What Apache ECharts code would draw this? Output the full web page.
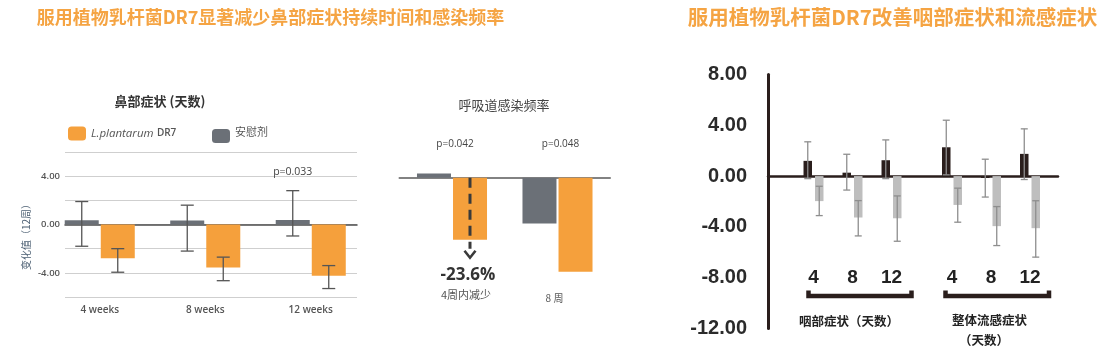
<!DOCTYPE html>
<html>
<head>
<meta charset="utf-8">
<script src="https://cdn.jsdelivr.net/npm/echarts@6/dist/echarts.min.js"></script>
<style>
  html, body { margin: 0; padding: 0; background: #ffffff; }
  #main { width: 1107px; height: 356px; }
</style>
</head>
<body>
<div id="main"></div>
<script>
// 鼻部症状（天数）：12周内的变化值
const nasalWeeks = ['4 weeks', '8 weeks', '12 weeks'];
const nasalPlacebo = [0.35, 0.33, 0.38];
const nasalPlaceboLow = [-1.8, -2.2, -0.95];
const nasalPlaceboHigh = [1.9, 1.6, 2.8];
const nasalDR7 = [-2.8, -3.55, -4.25];
const nasalDR7Low = [-3.95, -4.65, -5.3];
const nasalDR7High = [-2.0, -2.7, -3.4];
const nasalP = ['', '', 'p=0.033'];
const nasalLabeledTicks = [4, 0, -4];

// 呼吸道感染频率（相对变化，%）
const infectionPeriods = ['4周内减少', '8 周'];
const infectionPlacebo = [1.6, -17.4];
const infectionDR7 = [-23.6, -35.8];
const infectionP = ['p=0.042', 'p=0.048'];

// 咽部症状与整体流感症状（天数）
const weekTicks = ['4', '8', '12'];
const throatPlacebo = [1.2, 0.27, 1.25];
const throatPlaceboLow = [-0.2, -1.1, -0.2];
const throatPlaceboHigh = [2.7, 1.72, 2.85];
const throatDR7 = [-1.97, -3.26, -3.32];
const throatDR7Low = [-3.11, -4.71, -5.13];
const throatDR7High = [-0.8, -1.93, -1.56];
const fluPlacebo = [2.27, -0.15, 1.75];
const fluPlaceboLow = [0.1, -1.65, -0.27];
const fluPlaceboHigh = [4.4, 1.33, 3.72];
const fluDR7 = [-2.27, -3.94, -4.1];
const fluDR7Low = [-3.63, -5.47, -6.38];
const fluDR7High = [-0.95, -2.4, -1.94];

const ORANGE = '#F5A03C';
const SLATE = '#6B7077';
const INK = '#2A1E1C';
const LIGHT = '#BEBEBE';
const TITLE = '#F5A443';
const SANS = "'Open Sans','Noto Sans CJK SC',sans-serif";
const ARIAL = "'Liberation Sans','Noto Sans CJK SC',sans-serif";
const CJK = "'Noto Sans CJK SC',sans-serif";

// vertical error bar with caps, drawn beside the category centre
function errorBars(axis, lows, highs, shift, cap, color, width) {
  return {
    type: 'custom', xAxisIndex: axis, yAxisIndex: axis, silent: true, z: 5,
    data: lows.map((lo, i) => [i, lo, highs[i]]),
    encode: { x: 0, y: [1, 2] },
    renderItem(params, api) {
      const top = api.coord([api.value(0), api.value(2)]);
      const bot = api.coord([api.value(0), api.value(1)]);
      const x = top[0] + shift;
      const style = { stroke: color, lineWidth: width };
      return {
        type: 'group', children: [
          { type: 'line', shape: { x1: x, y1: top[1], x2: x, y2: bot[1] }, style },
          { type: 'line', shape: { x1: x - cap / 2, y1: top[1], x2: x + cap / 2, y2: top[1] }, style },
          { type: 'line', shape: { x1: x - cap / 2, y1: bot[1], x2: x + cap / 2, y2: bot[1] }, style }
        ]
      };
    }
  };
}

// significance notes placed at a fixed value above each category
function notes(axis, texts, level, shift, size) {
  return {
    type: 'custom', xAxisIndex: axis, yAxisIndex: axis, silent: true, z: 6,
    data: texts.map((t, i) => [i, level]),
    renderItem(params, api) {
      const p = api.coord([api.value(0), api.value(1)]);
      return {
        type: 'text', x: p[0] + shift, y: p[1],
        style: {
          text: texts[params.dataIndex], fill: '#444', fontSize: size,
          fontFamily: SANS, align: 'center', verticalAlign: 'middle'
        }
      };
    }
  };
}

function hiddenValueAxis(grid, min, max) {
  return { type: 'value', gridIndex: grid, min, max, show: false };
}

const option = {
  animation: false,
  backgroundColor: '#ffffff',
  grid: [
    { left: 65, top: 152, width: 292, height: 145, outerBoundsMode: 'none' },
    { left: 47, top: 152, width: 316.5, height: 145, outerBoundsMode: 'none' },
    { left: 399.25, top: 135.6, width: 211, height: 147.3, outerBoundsMode: 'none' },
    { left: 768, top: 74.5, width: 290, height: 254, outerBoundsMode: 'none' },
    { left: 794, top: 74.5, width: 117, height: 254, outerBoundsMode: 'none' },
    { left: 932.5, top: 74.5, width: 117, height: 254, outerBoundsMode: 'none' }
  ],
  legend: [
    {
      left: 63, top: 121.5, itemWidth: 18, itemHeight: 14, itemGap: 0,
      data: ['L.plantarum DR7'], selectedMode: false,
      formatter: () => '{i|L.plantarum} {d|DR7}',
      textStyle: {
        rich: {
          i: { fontStyle: 'italic', fontSize: 11.5, color: '#555', fontFamily: SANS },
          d: { fontSize: 10, fontWeight: 600, color: '#555', fontFamily: SANS }
        }
      }
    },
    {
      left: 207, top: 121.5, itemWidth: 18, itemHeight: 14, itemGap: 0,
      data: ['安慰剂'], selectedMode: false,
      formatter: name => '{t|' + name + '}',
      textStyle: { rich: { t: { fontSize: 11, color: '#555', fontFamily: CJK, padding: [0, 0, 8, 0] } } }
    }
  ],
  xAxis: [
    {
      type: 'category', gridIndex: 0, data: nasalWeeks,
      axisLabel: { show: false }, axisTick: { show: false },
      axisLine: { onZero: true, lineStyle: { color: '#4d4d4d', width: 1.5 } }
    },
    {
      type: 'category', gridIndex: 1, data: nasalWeeks,
      axisLine: { show: false }, axisTick: { show: false },
      axisLabel: { margin: 8, fontSize: 10, fontWeight: 600, color: '#555', fontFamily: SANS }
    },
    {
      type: 'category', gridIndex: 2, data: infectionPeriods,
      axisTick: { show: false },
      axisLine: { onZero: true, lineStyle: { color: '#5a5a5a', width: 1.5 } },
      axisLabel: {
        margin: 6.5,
        formatter: (v, i) => (i === 0 ? '{a|' + v + '}' : '{b|' + v + '}'),
        rich: {
          a: { fontSize: 11, color: '#555', fontFamily: CJK, padding: [0, 0, 0, 28] },
          b: { fontSize: 10, color: '#555', fontFamily: CJK, padding: [4, 6, 0, 0] }
        }
      }
    },
    {
      type: 'value', gridIndex: 3, min: 0, max: 1,
      axisLabel: { show: false }, axisTick: { show: false }, splitLine: { show: false },
      axisLine: { show: true, onZero: true, lineStyle: { color: INK, width: 2.5 } }
    },
    {
      type: 'category', gridIndex: 4, data: weekTicks,
      axisLine: { show: false }, axisTick: { show: false },
      axisLabel: { margin: -60, fontSize: 19, fontWeight: 'bold', color: '#222', fontFamily: ARIAL }
    },
    {
      type: 'category', gridIndex: 5, data: weekTicks,
      axisLine: { show: false }, axisTick: { show: false },
      axisLabel: { margin: -60, fontSize: 19, fontWeight: 'bold', color: '#222', fontFamily: ARIAL }
    }
  ],
  yAxis: [
    {
      type: 'value', gridIndex: 0, min: -6, max: 6, interval: 2,
      axisLine: { show: false }, axisTick: { show: false },
      splitLine: { show: true, lineStyle: { color: '#cfcfcf', width: 1 } },
      axisLabel: {
        margin: 5, fontSize: 9.5, fontWeight: 600, color: '#555', fontFamily: SANS,
        formatter: v => (nasalLabeledTicks.includes(v) ? v.toFixed(2) : '')
      },
      name: '变化值（12周）', nameLocation: 'middle', nameGap: 34, nameRotate: 90,
      nameTextStyle: { fontSize: 10, color: '#4f6275', fontFamily: CJK, padding: [0, 20, 0, 0] }
    },
    hiddenValueAxis(1, -6, 6),
    hiddenValueAxis(2, -40, 16),
    {
      type: 'value', gridIndex: 3, min: -12, max: 8, interval: 4,
      axisLine: { show: true, lineStyle: { color: INK, width: 3 } },
      axisTick: { show: false }, splitLine: { show: false },
      axisLabel: {
        margin: 21, fontSize: 20, fontWeight: 'bold', color: '#2b2b2b', fontFamily: ARIAL,
        formatter: v => v.toFixed(2)
      }
    },
    hiddenValueAxis(4, -12, 8),
    hiddenValueAxis(5, -12, 8)
  ],
  series: [
    // 鼻部症状
    { type: 'bar', name: '安慰剂', xAxisIndex: 1, yAxisIndex: 1, data: nasalPlacebo,
      barWidth: 34, barGap: '6%', itemStyle: { color: SLATE } },
    { type: 'bar', name: 'L.plantarum DR7', xAxisIndex: 1, yAxisIndex: 1, data: nasalDR7,
      barWidth: 34, barGap: '6%', itemStyle: { color: ORANGE } },
    errorBars(1, nasalPlaceboLow, nasalPlaceboHigh, -18, 13, '#555', 1.3),
    errorBars(1, nasalDR7Low, nasalDR7High, 18, 13, '#555', 1.3),
    notes(1, nasalP, 4.35, -18, 10.5),

    // 呼吸道感染频率
    { type: 'bar', name: '安慰剂', xAxisIndex: 2, yAxisIndex: 2, data: infectionPlacebo,
      barWidth: 34, barGap: '6%', itemStyle: { color: SLATE } },
    { type: 'bar', name: 'L.plantarum DR7', xAxisIndex: 2, yAxisIndex: 2, data: infectionDR7,
      barWidth: 34, barGap: '6%', itemStyle: { color: ORANGE } },
    notes(2, infectionP, 12.8, 3, 10),
    {
      // dashed arrow and reduction figure on the first DR7 bar
      type: 'custom', xAxisIndex: 2, yAxisIndex: 2, silent: true, z: 6,
      data: [[0, infectionDR7[0]]],
      renderItem(params, api) {
        const idx = api.value(0), v = api.value(1);
        const zero = api.coord([idx, 0]);
        const end = api.coord([idx, v]);
        const x = zero[0] + 18;
        const tip = end[1] + 18;
        const ink = '#3a3a3a';
        return {
          type: 'group', children: [
            { type: 'line', shape: { x1: x, y1: zero[1], x2: x, y2: end[1] + 9 },
              style: { stroke: ink, lineWidth: 3, lineDash: [10, 6] } },
            { type: 'polyline', shape: { points: [[x - 5.5, tip - 7], [x, tip], [x + 5.5, tip - 7]] },
              style: { stroke: ink, lineWidth: 2.6, fill: null } },
            { type: 'text', x: x - 2, y: end[1] + 35,
              style: { text: v.toFixed(1) + '%', fill: '#333', fontSize: 17, fontWeight: 'bold',
                       fontFamily: SANS, align: 'center', verticalAlign: 'middle' } }
          ]
        };
      }
    },

    // 咽部症状
    { type: 'bar', name: '对照组', xAxisIndex: 4, yAxisIndex: 4, data: throatPlacebo,
      barWidth: 8.5, barGap: '35%', itemStyle: { color: INK } },
    { type: 'bar', name: '植物乳杆菌DR7', xAxisIndex: 4, yAxisIndex: 4, data: throatDR7,
      barWidth: 8.5, barGap: '35%', itemStyle: { color: LIGHT } },
    errorBars(4, throatPlaceboLow, throatPlaceboHigh, -5.74, 7, '#8e8e8e', 1.3),
    errorBars(4, throatDR7Low, throatDR7High, 5.74, 7, '#8e8e8e', 1.3),

    // 整体流感症状
    { type: 'bar', name: '对照组', xAxisIndex: 5, yAxisIndex: 5, data: fluPlacebo,
      barWidth: 8.5, barGap: '35%', itemStyle: { color: INK } },
    { type: 'bar', name: '植物乳杆菌DR7', xAxisIndex: 5, yAxisIndex: 5, data: fluDR7,
      barWidth: 8.5, barGap: '35%', itemStyle: { color: LIGHT } },
    errorBars(5, fluPlaceboLow, fluPlaceboHigh, -5.74, 7, '#8e8e8e', 1.3),
    errorBars(5, fluDR7Low, fluDR7High, 5.74, 7, '#8e8e8e', 1.3)
  ],
  graphic: [
    { type: 'text', x: 270.5, y: 17, style: { text: '服用植物乳杆菌DR7显著减少鼻部症状持续时间和感染频率',
      fill: TITLE, fontSize: 18, fontWeight: 'bold', fontFamily: CJK, align: 'center', verticalAlign: 'middle' } },
    { type: 'text', x: 892.5, y: 17, style: { text: '服用植物乳杆菌DR7改善咽部症状和流感症状',
      fill: TITLE, fontSize: 20.5, fontWeight: 'bold', fontFamily: CJK, align: 'center', verticalAlign: 'middle' } },
    { type: 'text', x: 160, y: 101, style: { text: '鼻部症状 (天数)',
      fill: '#333', fontSize: 13, fontWeight: 600, fontFamily: CJK, align: 'center', verticalAlign: 'middle' } },
    { type: 'text', x: 504, y: 105, style: { text: '呼吸道感染频率',
      fill: '#444', fontSize: 13, fontFamily: CJK, align: 'center', verticalAlign: 'middle' } },
    // brackets under the week groups
    { type: 'polyline', shape: { points: [[808.5, 290.5], [808.5, 296], [911.5, 296], [911.5, 290.5]] },
      style: { stroke: INK, lineWidth: 4.5, fill: null } },
    { type: 'polyline', shape: { points: [[945.5, 290.5], [945.5, 296], [1049, 296], [1049, 290.5]] },
      style: { stroke: INK, lineWidth: 4.5, fill: null } },
    { type: 'text', x: 849, y: 321, style: { text: '咽部症状（天数）',
      fill: '#222', fontSize: 12.5, fontWeight: 'bold', fontFamily: CJK, align: 'center', verticalAlign: 'middle' } },
    { type: 'text', x: 989.5, y: 320, style: { text: '整体流感症状',
      fill: '#222', fontSize: 12.5, fontWeight: 'bold', fontFamily: CJK, align: 'center', verticalAlign: 'middle' } },
    { type: 'text', x: 984, y: 340, style: { text: '（天数）',
      fill: '#222', fontSize: 12.5, fontWeight: 'bold', fontFamily: CJK, align: 'center', verticalAlign: 'middle' } }
  ]
};

const chart = echarts.init(document.getElementById('main'), null, { renderer: 'canvas' });
chart.setOption(option);
</script>
</body>
</html>
